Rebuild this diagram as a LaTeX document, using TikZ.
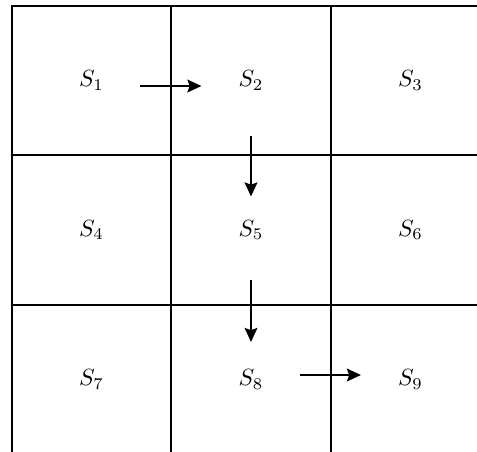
\documentclass[tikz,border=0pt]{standalone}
\usetikzlibrary{arrows.meta, calc}

\begin{document}
\begin{tikzpicture}[
  x=0.015cm, y=-0.015cm,
  cell/.style={draw, line width=0.7pt, minimum width=2.3925cm, minimum height=2.2425cm,
               inner sep=0pt},
  move/.style={->, line width=0.7pt},
  >={Stealth[length=6pt, width=5.5pt, inset=1pt]}
]

% ── Frame (grid runs past the right and bottom edges) ──
\clip (0,0) rectangle (477,451);

% ── States ──
\node[cell] (s1) at (91.5, 80.5)  {$S_1$};
\node[cell] (s2) at (251, 80.5)   {$S_2$};
\node[cell] (s3) at (410.5, 80.5) {$S_3$};
\node[cell] (s4) at (91.5, 230)   {$S_4$};
\node[cell] (s5) at (251, 230)    {$S_5$};
\node[cell] (s6) at (410.5, 230)  {$S_6$};
\node[cell] (s7) at (91.5, 379.5) {$S_7$};
\node[cell] (s8) at (251, 379.5)  {$S_8$};
\node[cell] (s9) at (410.5, 379.5) {$S_9$};

% ── Path ──
\draw[move] ($(s1.east)+(-32.5,5.5)$) -- ($(s2.west)+(31,5.5)$);
\draw[move] ($(s2.south)+(0,-20.5)$) -- ($(s5.north)+(0,42)$);
\draw[move] ($(s5.south)+(0,-26)$) -- ($(s8.north)+(0,38)$);
\draw[move] ($(s8.east)+(-32,-4.5)$) -- ($(s9.west)+(31,-4.5)$);

\end{tikzpicture}
\end{document}
